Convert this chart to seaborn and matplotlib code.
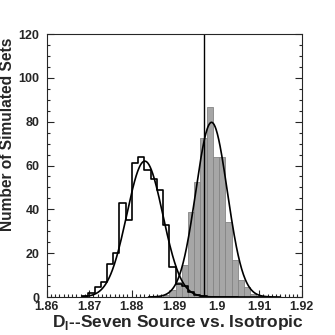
import numpy as np
import pandas as pd
import seaborn as sns
import matplotlib.pyplot as plt
from matplotlib.ticker import MultipleLocator

sns.set_style("ticks")
plt.rcParams['font.family'] = ['Liberation Sans', 'DejaVu Sans']
plt.rcParams['font.weight'] = 'bold'
plt.rcParams['mathtext.fontset'] = 'custom'
plt.rcParams['mathtext.rm'] = 'Liberation Sans:bold'
plt.rcParams['mathtext.bf'] = 'Liberation Sans:bold'

# histogram binning
bin_start = 1.86835
bin_width = 0.001465
n_bins = 30

# counts per bin, bin index 0 starts at bin_start
seven_counts = [0.5, 2, 4.7, 7, 15, 20, 43, 35, 61, 64, 58, 54, 49, 33, 13.5,
                6, 5, 2.4, 1, 0.3]
seven_first_bin = 0
iso_counts = [1, 3, 7, 14.6, 39, 52.6, 72.4, 86.5, 64, 64, 34, 17, 7.8, 4.7,
              1.2, 0.5]
iso_first_bin = 13

# gaussian fits: amplitude, mean, sigma
seven_fit = (62.0, 1.8831, 0.00424)
iso_fit = (79.7, 1.8988, 0.0037)
observed = 1.8971

xticks = [1.86, 1.87, 1.88, 1.89, 1.90, 1.91, 1.92]
xtick_labels = ["1.86", "1.87", "1.88", "1.89", "1.9", "1.91", "1.92"]
yticks = [0, 20, 40, 60, 80, 100, 120]

edges = bin_start + bin_width * np.arange(n_bins + 1)
centers = (edges[:-1] + edges[1:]) / 2
hist_range = (float(edges[0]), float(edges[-1]))

seven = pd.DataFrame({"x": centers[seven_first_bin:seven_first_bin + len(seven_counts)],
                      "n": seven_counts})
iso = pd.DataFrame({"x": centers[iso_first_bin:iso_first_bin + len(iso_counts)],
                    "n": iso_counts})

fig = plt.figure(figsize=(3.35, 3.35), dpi=100)
ax = fig.add_axes([0.139, 0.1134, 0.7616, 0.7851])

sns.histplot(data=iso, x="x", weights="n", binwidth=bin_width,
             binrange=hist_range, element="bars", fill=True,
             color="#a6a6a6", alpha=1, edgecolor="#858585", linewidth=0.6,
             ax=ax)
sns.histplot(data=seven, x="x", weights="n", binwidth=bin_width,
             binrange=hist_range, element="step", fill=False,
             color="black", linewidth=1.2, ax=ax)


def gauss_frame(fit, lo, hi):
    a, mu, s = fit
    xs = np.linspace(lo, hi, 300)
    return pd.DataFrame({"x": xs, "y": a * np.exp(-0.5 * ((xs - mu) / s) ** 2)})


sns.lineplot(data=gauss_frame(seven_fit, 1.8685, 1.905), x="x", y="y",
             color="black", linewidth=1.2, ax=ax)
sns.lineplot(data=gauss_frame(iso_fit, 1.884, 1.915), x="x", y="y",
             color="black", linewidth=1.2, ax=ax)
ax.axvline(observed, color="black", linewidth=1.0)

ax.set_xlim(1.86, 1.92)
ax.set_ylim(0, 120)
ax.set_xticks(xticks)
ax.set_xticklabels(xtick_labels)
ax.set_yticks(yticks)
ax.xaxis.set_minor_locator(MultipleLocator(0.001))
ax.yaxis.set_minor_locator(MultipleLocator(5))
ax.tick_params(which="both", direction="in", right=True, top=False,
               labelsize=9, width=0.8)
ax.tick_params(which="major", length=5)
ax.tick_params(which="minor", length=2.5)
ax.tick_params(axis="x", pad=3)
ax.tick_params(axis="y", pad=5)
for sp in ax.spines.values():
    sp.set_linewidth(0.8)
    sp.set_visible(True)

ax.set_xlabel(r"D$_\mathrm{I}$--Seven Source vs. Isotropic", fontsize=12.5,
              fontweight="bold", labelpad=0)
ax.xaxis.label.set_x(0.513)
ax.set_ylabel("Number of Simulated Sets", fontsize=11.2, fontweight="bold",
              labelpad=2.5)
ax.yaxis.label.set_y(0.62)

fig.savefig("out.png", dpi=100)
